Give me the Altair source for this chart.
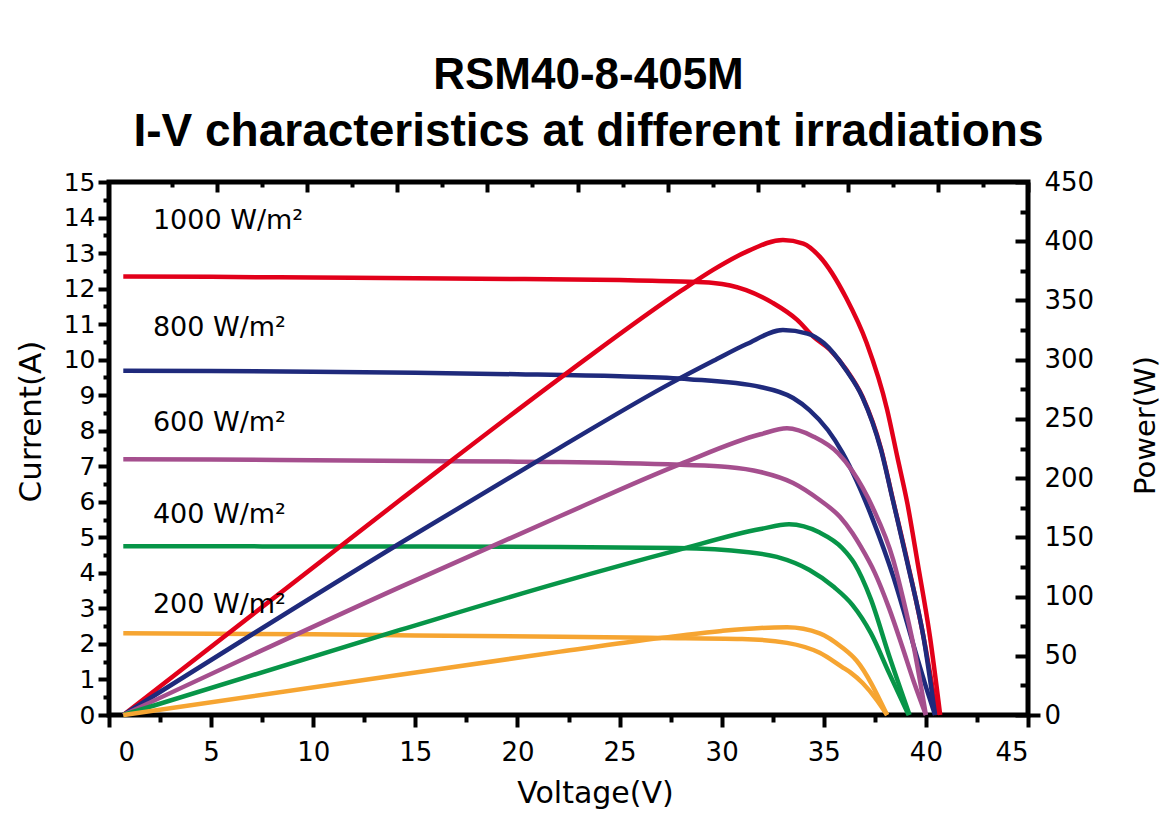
import altair as alt
import pandas as pd

# ---------------- data ----------------
irr_levels = ["1000", "800", "600", "400", "200"]
irr_colors = ["#e2001a", "#1f2a7c", "#a54f8e", "#079548", "#f6a532"]
irr_labels = ["1000 W/m²", "800 W/m²", "600 W/m²", "400 W/m²", "200 W/m²"]
label_v = [2.15, 2.15, 2.15, 2.15, 2.15]
label_i = [13.9, 10.9, 8.22, 5.62, 3.1]

# I-V curves (voltage V, current A)
iv_1000_v = [0.7, 5, 10, 15, 20, 25, 28, 29.6, 31.2, 32.5, 33.7, 34.5, 35.3, 36.1, 36.9, 37.8, 38.4, 39.1, 39.9, 40.55]
iv_1000_i = [12.34, 12.33, 12.31, 12.29, 12.27, 12.24, 12.2, 12.16, 11.96, 11.6, 11.12, 10.64, 10.28, 9.72, 8.95, 7.5, 6.02, 4.3, 2.15, 0]
iv_800_v = [0.7, 5, 10, 15, 20, 25, 28.4, 31.9, 33.5, 34.3, 35.2, 35.9, 36.6, 37.4, 38.4, 38.9, 39.4, 40.0, 40.45]
iv_800_i = [9.69, 9.68, 9.66, 9.63, 9.59, 9.53, 9.45, 9.23, 8.92, 8.58, 8.02, 7.4, 6.6, 5.5, 3.9, 2.95, 1.95, 0.8, 0]
iv_600_v = [0.7, 5, 10, 15, 20, 22.1, 28, 30.3, 31.9, 33.5, 34.8, 35.8, 36.4, 36.8, 37.5, 38.2, 38.8, 39.4, 40.0]
iv_600_i = [7.2, 7.19, 7.17, 7.15, 7.13, 7.12, 7.04, 6.98, 6.84, 6.53, 6.05, 5.57, 5.12, 4.75, 4.0, 3.0, 2.0, 0.95, 0]
iv_400_v = [0.7, 5, 10, 15, 22.1, 27.8, 31.2, 32.7, 34.3, 35.5, 36.4, 37.3, 38.2, 39.15]
iv_400_i = [4.75, 4.75, 4.74, 4.74, 4.73, 4.70, 4.59, 4.45, 4.08, 3.60, 3.1, 2.31, 1.18, 0]
iv_200_v = [0.7, 5, 10, 15, 22.1, 27, 31, 33.2, 34.8, 35.9, 36.3, 36.9, 37.6, 38.1]
iv_200_i = [2.3, 2.29, 2.27, 2.24, 2.2, 2.17, 2.14, 2.03, 1.75, 1.35, 1.2, 0.9, 0.42, 0]

# P-V curves (voltage V, power W)
pv_1000_v = [0.7, 14.25, 22.6, 28, 29.6, 31.2, 33, 34, 34.8, 36.1, 37.1, 38.1, 38.6, 39.1, 39.6, 40.2, 40.7]
pv_1000_p = [0, 181.5, 291, 358, 376, 391, 401, 398, 387, 352, 314, 258, 218, 178, 128, 66, 0]
pv_800_v = [0.7, 14.25, 22.1, 27.5, 29.6, 31.2, 33, 34.2, 35, 36.1, 36.9, 37.8, 38.4, 39.1, 39.9, 40.45]
pv_800_p = [0, 145, 226, 280, 299, 313, 325, 322, 314, 291, 268, 224, 180, 128, 64, 0]
pv_600_v = [0.7, 14.25, 22.1, 28, 31.9, 33.2, 34.5, 35.7, 36.4, 37.4, 38.4, 38.9, 39.4, 40.0]
pv_600_p = [0, 108, 168, 212, 237, 242, 235, 221, 206, 175, 131, 97, 58, 0]
pv_400_v = [0.7, 14.25, 22.1, 27.8, 31.9, 33.3, 34.8, 35.9, 36.5, 37.3, 38.2, 39.2]
pv_400_p = [0, 71.8, 112, 139, 157, 161, 154, 141, 128, 98, 50, 0]
pv_200_v = [0.7, 14.25, 22.1, 27, 30, 31.9, 33.2, 34.8, 35.9, 36.6, 38.1]
pv_200_p = [0, 34, 53.5, 65, 71, 73.5, 74, 69, 57, 46, 0]

# axis ticks
v_major = [0, 5, 10, 15, 20, 25, 30, 35, 40, 45]
v_minor = [2.5, 7.5, 12.5, 17.5, 22.5, 27.5, 32.5, 37.5, 42.5]
i_major = list(range(0, 16))
i_minor = [k + 0.5 for k in range(0, 15)]
p_major = [0, 50, 100, 150, 200, 250, 300, 350, 400, 450]
p_minor = [25, 75, 125, 175, 225, 275, 325, 375, 425]
top_domain = [-0.2, 10]
top_long = [1, 2, 3, 4, 5, 6, 7, 8, 9, 10]
top_short = [0.5, 1.5, 2.5, 3.5, 4.5, 5.5, 6.5, 7.5, 8.5, 9.5]

# ---------------- tables ----------------
iv_sets = [("1000", iv_1000_v, iv_1000_i), ("800", iv_800_v, iv_800_i), ("600", iv_600_v, iv_600_i),
           ("400", iv_400_v, iv_400_i), ("200", iv_200_v, iv_200_i)]
pv_sets = [("1000", pv_1000_v, pv_1000_p), ("800", pv_800_v, pv_800_p), ("600", pv_600_v, pv_600_p),
           ("400", pv_400_v, pv_400_p), ("200", pv_200_v, pv_200_p)]

iv_df = pd.DataFrame([{"irr": k, "V": v, "I": i} for k, vs, is_ in iv_sets for v, i in zip(vs, is_)])
pv_df = pd.DataFrame([{"irr": k, "V": v, "P": p} for k, vs, ps in pv_sets for v, p in zip(vs, ps)])
lab_df = pd.DataFrame({"label": irr_labels, "V": label_v, "I": label_i})

FONT = "DejaVu Sans"
W, H = 919, 533

sx = alt.Scale(domain=[0, 45], nice=False, zero=False)
sI = alt.Scale(domain=[0, 15], nice=False, zero=False)
sP = alt.Scale(domain=[0, 450], nice=False, zero=False)
sTop = alt.Scale(domain=top_domain, nice=False, zero=False)
color = alt.Color("irr:N", scale=alt.Scale(domain=irr_levels, range=irr_colors), legend=None)

iv_layer = alt.Chart(iv_df).mark_line(strokeWidth=4.5, interpolate="monotone").encode(
    x=alt.X("V:Q", scale=sx, axis=alt.Axis(
        orient="bottom", values=v_major, format="d", tickSize=12, tickWidth=4,
        labelFontSize=26, labelPadding=12,
        labelOffset={"condition": {"test": "datum.value === 0", "value": 9}, "value": 0},
        title="Voltage(V)", titleFontSize=30,
        titleX=486, titleY=78, titleBaseline="middle", titleAlign="center")),
    y=alt.Y("I:Q", scale=sI, axis=alt.Axis(
        orient="left", values=i_major, format="d", tickSize=11, tickWidth=4,
        labelFontSize=25, labelPadding=3, title="Current(A)", titleFontSize=31,
        titleAngle=270, titleX=-78, titleY=239, titleBaseline="middle", titleAlign="center")),
    color=color,
    detail="irr:N",
)

pv_layer = alt.Chart(pv_df).mark_line(strokeWidth=4.5, interpolate="monotone").encode(
    x=alt.X("V:Q", scale=sx, axis=None),
    y=alt.Y("P:Q", scale=sP, axis=alt.Axis(
        orient="right", values=p_major, format="d", tickSize=0,
        labelFontSize=26, labelPadding=16, title="Power(W)", titleFontSize=29,
        titleAngle=270, titleX=117, titleY=243, titleBaseline="middle", titleAlign="center")),
    color=color,
    detail="irr:N",
)

text_layer = alt.Chart(lab_df).mark_text(align="left", baseline="middle", font=FONT, fontSize=27, color="black").encode(
    x=alt.X("V:Q", scale=sx, axis=None),
    y=alt.Y("I:Q", scale=sI, axis=None),
    text="label:N",
)


def tick_y(values, scale, orient, size, offset=0):
    return alt.Chart(pd.DataFrame({"t": values})).mark_point(opacity=0).encode(
        y=alt.Y("t:Q", scale=scale, axis=alt.Axis(
            orient=orient, values=values, tickSize=size, tickWidth=4, labels=False,
            title=None, domain=False, offset=offset)))


def tick_x(values, scale, orient, size, offset=0):
    return alt.Chart(pd.DataFrame({"t": values})).mark_point(opacity=0).encode(
        x=alt.X("t:Q", scale=scale, axis=alt.Axis(
            orient=orient, values=values, tickSize=size, tickWidth=4, labels=False,
            title=None, domain=False, offset=offset)))


layers = [
    iv_layer,
    pv_layer,
    text_layer,
    tick_y(i_minor, sI, "left", 6),
    tick_x(v_minor, sx, "bottom", 7),
    tick_y(p_major, sP, "left", 13, offset=-W),
    tick_y(p_minor, sP, "left", 8, offset=-W),
    tick_x(top_long, sTop, "bottom", 10, offset=-H),
    tick_x(top_short, sTop, "bottom", 5, offset=-H),
    tick_y([0], sP, "right", 12),
]

chart = alt.layer(*layers).resolve_scale(
    x="independent", y="independent", color="shared"
).properties(
    width=W,
    height=H,
    autosize=alt.AutoSizeParams(type="none"),
    padding={"left": 101, "top": 174, "right": 138, "bottom": 107},
    background="white",
    title=alt.TitleParams(
        text="RSM40-8-405M",
        subtitle="I-V characteristics at different irradiations",
        font="Liberation Sans", fontSize=44, fontWeight="bold", color="black",
        subtitleFont="Liberation Sans", subtitleFontSize=46, subtitleFontWeight="bold",
        subtitleColor="black", subtitlePadding=12, anchor="middle", dx=20, offset=14,
    ),
).configure_view(
    stroke="black", strokeWidth=5
).configure_axis(
    grid=False, domain=False, labelFont=FONT, titleFont=FONT, labelColor="black",
    titleColor="black", tickColor="black", titleFontWeight="normal",
)

chart.save("out.html", embed_options={"renderer": "svg", "actions": False})
